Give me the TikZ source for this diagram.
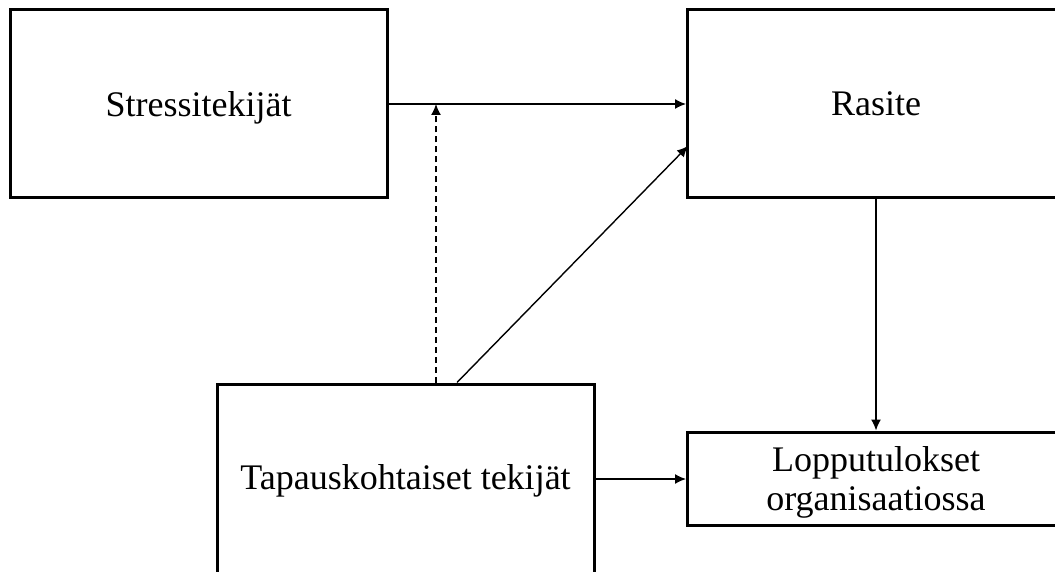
\documentclass[tikz,border=0pt]{standalone}
\usepackage{fontspec}
\setmainfont{Liberation Serif}
\usetikzlibrary{arrows.meta}
\begin{document}
\begin{tikzpicture}[x=1pt,y=1pt,
  box/.style={draw, line width=3pt, rectangle, minimum width=377pt, align=center, font=\fontsize{36}{39}\selectfont, inner sep=0pt},
  lbl/.style={align=center, font=\fontsize{36}{39}\selectfont, inner sep=0pt},
  conn/.style={line width=1.4pt, -{Latex[length=11pt,width=10pt]}}]
\useasboundingbox (0,0) rectangle (1055,-572);
\clip (0,0) rectangle (1055,-572);
\fill[white] (0,0) rectangle (1055,-572);
\node[box, minimum height=188pt, text height=25pt, text depth=0pt] (s) at (198.5,-104) {Stressitekijät};
\node[box, minimum height=188pt, text height=23pt, text depth=0pt] (r) at (876,-104) {Rasite};
\node[box, minimum height=190pt, text height=20pt, text depth=0pt] (t) at (405.5,-479) {Tapauskohtaiset tekijät};
\node[box, minimum height=93pt] (l) at (876,-478.5) {};
\node[lbl] (ltext) at ([yshift=-3.5pt]l.center) {Lopputulokset\\organisaatiossa};
\coordinate (m) at (436,-104);
\coordinate (d) at (457,-384);
\coordinate (e) at (688,-146);
\draw[conn] (s.east) -- (r.west);
\draw[conn, dashed, dash pattern=on 6pt off 4pt] (t.north -| m) -- (m);
\draw[conn] (t.north -| d) -- (e);
\draw[conn] (r.south) -- (l.north);
\draw[conn] (t.east) -- (t.east -| l.west);
\end{tikzpicture}
\end{document}
